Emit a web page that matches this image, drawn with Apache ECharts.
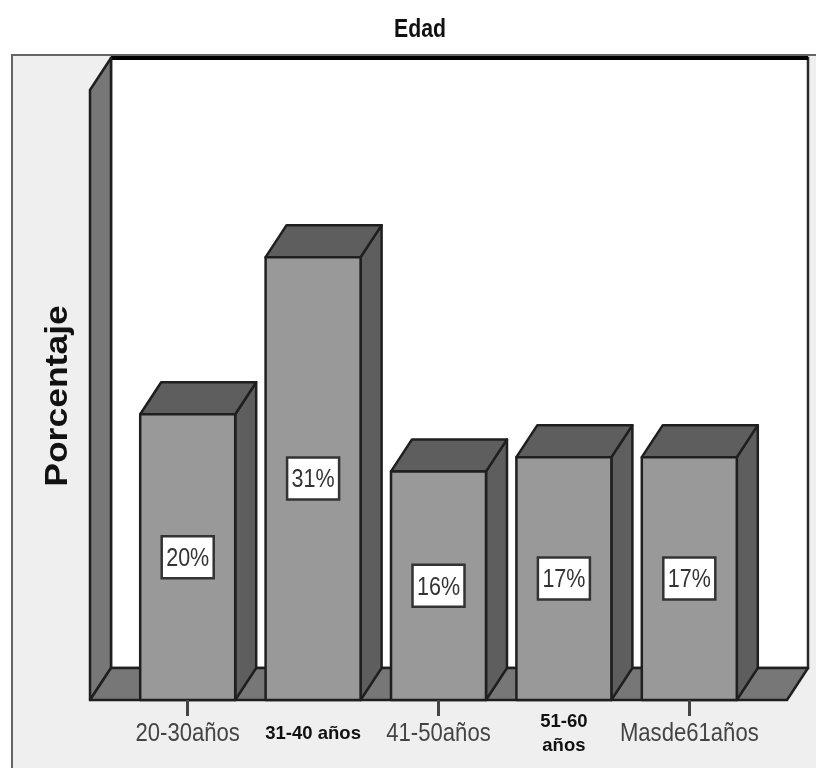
<!DOCTYPE html>
<html>
<head>
<meta charset="utf-8">
<style>html,body{margin:0;padding:0;background:#fff}#chart{width:816px;height:768px}</style>
<script src="https://cdn.jsdelivr.net/npm/echarts@6/dist/echarts.min.js"></script>
</head>
<body>
<div id="chart"></div>
<script>
// Distribución por edad
const categories = ['20-30años', '31-40 años', '41-50años', '51-60\naños', 'Masde61años'];
const percentages = [20, 31, 16, 17, 17];
const boldLabels = [1, 3];

const DEPTH_X = 21, DEPTH_Y = -32;
const BAR_WIDTH = 95;
const EDGE = '#1f1f1f';
const TEXT_FONT = '"Liberation Sans", sans-serif';

const chart = echarts.init(document.getElementById('chart'), null, { renderer: 'canvas' });

function poly(points, fill, lineWidth) {
  return {
    type: 'polygon',
    shape: { points },
    style: { fill, stroke: EDGE, lineWidth: lineWidth || 2.5, lineJoin: 'round' }
  };
}

// Panel, back wall, side wall and floor of the 3D box
function renderFrame(params, api) {
  const c = params.coordSys;
  const baseY = c.y + c.height;
  const left = c.x - 35, right = c.x + c.width + 35;
  const top = c.y - 10;
  return {
    type: 'group',
    children: [
      { type: 'rect', shape: { x: 12, y: 55, width: 820, height: 730 },
        style: { fill: '#efefef', stroke: '#666666', lineWidth: 2 } },
      { type: 'rect', shape: { x: left + DEPTH_X, y: top + DEPTH_Y, width: right - left, height: baseY - top },
        style: { fill: '#ffffff', stroke: '#2a2a2a', lineWidth: 2.5 } },
      { type: 'line', shape: { x1: left + DEPTH_X, y1: top + DEPTH_Y, x2: right + DEPTH_X, y2: top + DEPTH_Y },
        style: { stroke: '#000000', lineWidth: 4 } },
      poly([[left, baseY], [left + DEPTH_X, baseY + DEPTH_Y], [left + DEPTH_X, top + DEPTH_Y], [left, top]], '#777777'),
      poly([[left, baseY], [right, baseY], [right + DEPTH_X, baseY + DEPTH_Y], [left + DEPTH_X, baseY + DEPTH_Y]], '#777777')
    ]
  };
}

// One 3D bar with its percentage box centred on the front face
function renderBar(params, api) {
  const base = api.coord([api.value(0), 0]);
  const head = api.coord([api.value(0), api.value(1)]);
  const x0 = base[0] - BAR_WIDTH / 2, x1 = base[0] + BAR_WIDTH / 2;
  const y0 = base[1], y1 = head[1];
  const midY = (y0 + y1) / 2;
  return {
    type: 'group',
    children: [
      poly([[x1, y0], [x1 + DEPTH_X, y0 + DEPTH_Y], [x1 + DEPTH_X, y1 + DEPTH_Y], [x1, y1]], '#5e5e5e'),
      poly([[x0, y1], [x1, y1], [x1 + DEPTH_X, y1 + DEPTH_Y], [x0 + DEPTH_X, y1 + DEPTH_Y]], '#5e5e5e'),
      poly([[x0, y0], [x1, y0], [x1, y1], [x0, y1]], '#999999'),
      { type: 'rect', shape: { x: base[0] - 26, y: midY - 21, width: 52, height: 42 },
        style: { fill: '#ffffff', stroke: '#333333', lineWidth: 2.5 } },
      { type: 'text', x: base[0], y: midY + 2, scaleX: 0.86,
        style: { text: api.value(1) + '%', align: 'center', verticalAlign: 'middle',
                 fill: '#333333', font: '25px ' + TEXT_FONT } }
    ]
  };
}

// Category names under the axis: regular ones condensed, two of them bold
function renderCategoryLabel(params, api) {
  const index = api.value(0);
  const base = api.coord([index, 0]);
  const bold = boldLabels.includes(index);
  return {
    type: 'text', x: base[0], y: base[1] + 34, scaleX: bold ? 1 : 0.85,
    style: {
      text: categories[index], align: 'center', verticalAlign: 'middle',
      lineHeight: 24,
      fill: bold ? '#111111' : '#444444',
      font: bold ? 'bold 18.5px ' + TEXT_FONT : '26px ' + TEXT_FONT
    }
  };
}

chart.setOption({
  animation: false,
  backgroundColor: '#ffffff',
  graphic: [{
    type: 'text', x: 420, y: 30, scaleX: 0.85, z: 20,
    style: { text: 'Edad', align: 'center', verticalAlign: 'middle', fill: '#111111',
             font: 'bold 25px ' + TEXT_FONT }
  }, {
    type: 'text', x: 58, y: 396, rotation: Math.PI / 2, scaleX: 1.11, z: 20,
    style: { text: 'Porcentaje', align: 'center', verticalAlign: 'middle', fill: '#111111',
             font: 'bold 32px ' + TEXT_FONT }
  }],
  grid: { left: 125, right: 64, top: 100, bottom: 68 },
  xAxis: {
    type: 'category',
    z: 10,
    data: categories,
    axisLine: { show: false },
    axisTick: { show: true, alignWithLabel: true, length: 16, interval: i => i % 2 === 0,
                lineStyle: { color: '#444444', width: 3 } },
    axisLabel: { show: false }
  },
  yAxis: {
    type: 'value', min: 0, max: 42,
    axisLine: { show: false }, axisTick: { show: false }, axisLabel: { show: false }, splitLine: { show: false }
  },
  series: [
    { type: 'custom', name: 'frame', silent: true, clip: false, renderItem: renderFrame, data: [[0, 0]], z: 1 },
    { type: 'custom', name: 'Porcentaje', clip: false, renderItem: renderBar,
      data: percentages.map((v, i) => [i, v]), encode: { x: 0, y: 1 }, z: 2 },
    { type: 'custom', name: 'Edad', silent: true, clip: false, renderItem: renderCategoryLabel,
      data: categories.map((c, i) => [i, 0]), encode: { x: 0, y: 1 }, z: 3 }
  ]
});
</script>
</body>
</html>
